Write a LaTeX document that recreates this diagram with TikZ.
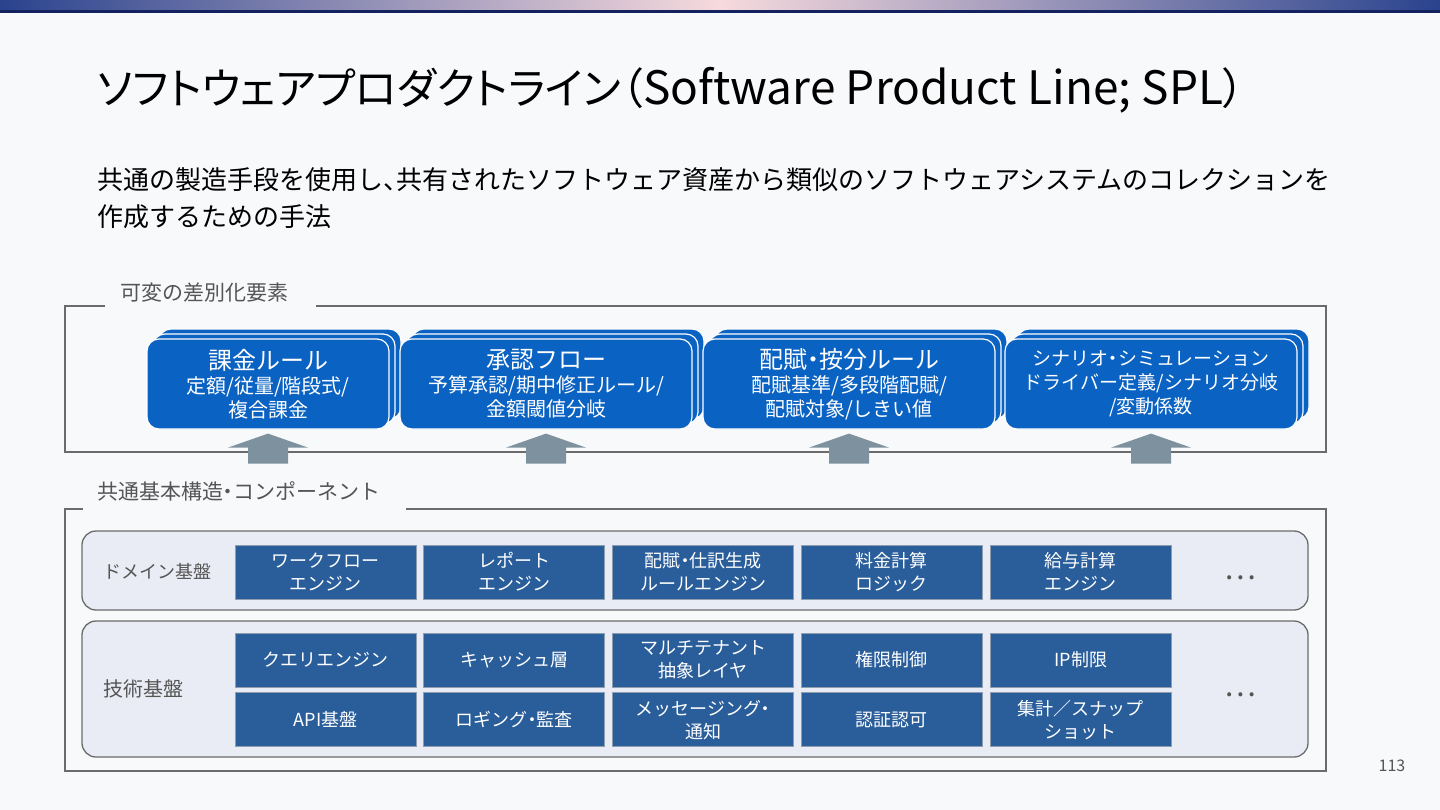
\documentclass[tikz,border=0pt]{standalone}
\usepackage{fontspec}
\setmainfont{Noto Sans CJK JP}[RawFeature=+halt]
\newfontfamily\propfont{Noto Sans CJK JP}[RawFeature=+palt]
\usetikzlibrary{
  positioning,
  shadows,
  calc,
}
\definecolor{pageBg}{HTML}{F8F9FB}
\definecolor{barBlue}{HTML}{2A438E}
\definecolor{barPink}{HTML}{F7DADD}
\definecolor{barNavy}{HTML}{14235F}
\definecolor{cardBlue}{HTML}{0A62C2}
\definecolor{compBlue}{HTML}{2A5E9B}
\definecolor{compLine}{HTML}{8E9DB0}
\definecolor{rowFill}{HTML}{E9ECF4}
\definecolor{frameGray}{HTML}{6B6B6B}
\definecolor{labelGray}{HTML}{555555}
\definecolor{arrowGray}{HTML}{7D929E}
\tikzset{
  cardbox/.style={
    rectangle, rounded corners=12pt, fill=cardBlue, draw=white,
    line width=1.2pt, minimum height=90pt, text=white, align=center,
    font=\fontsize{20}{24}\selectfont, inner sep=2pt,
    double copy shadow={shadow xshift=6pt, shadow yshift=5pt,
      fill=cardBlue, draw=white, line width=1.2pt},
  },
  compbox/.style={
    rectangle, fill=compBlue, draw=compLine, line width=0.8pt,
    minimum width=181pt, minimum height=54pt, text=white, align=center,
    font=\fontsize{18}{23}\selectfont, inner sep=1pt,
  },
  rowbox/.style={
    rectangle, rounded corners=14pt, fill=rowFill, draw=frameGray,
    line width=1.3pt, minimum width=1226pt,
  },
  frameline/.style={draw=frameGray, line width=1.3pt},
  grouplabel/.style={font=\fontsize{21}{24}\selectfont, text=labelGray, anchor=west, inner sep=0pt},
  rowlabel/.style={font=\fontsize{18}{22}\selectfont, text=labelGray, anchor=west, inner sep=0pt},
  moredots/.style={font=\fontsize{30}{32}\selectfont, text=labelGray},
  blockarrow/.style={fill=arrowGray},
}
\newcommand{\cardhead}[1]{{\fontsize{24}{28}\selectfont #1}}

\begin{document}
\begin{tikzpicture}[x=1pt, y=-1pt]

  % page
  \fill[pageBg] (0,0) rectangle (1440,810);
  \useasboundingbox (0,0) rectangle (1440,810);
  \shade[left color=barBlue, right color=barBlue, middle color=barPink] (0,0) rectangle (1440,10);
  \fill[barNavy] (0,10) rectangle (1440,13);

  \node[anchor=west, font=\propfont\fontsize{43}{50}\selectfont, inner sep=0pt] (title) at (97,90)
    {ソフトウェアプロダクトライン（{\fontsize{46}{50}\selectfont Software Product Line; SPL}）};
  \node[anchor=north west, align=left, font=\fontsize{26}{37}\selectfont, inner sep=0pt] (lead) at (97,167)
    {共通の製造手段を使用し、共有されたソフトウェア資産から類似のソフトウェアシステムのコレクションを\\作成するための手法};

  % Variable elements
  \node[grouplabel] (varLabel) at (120,293) {可変の差別化要素};
  \coordinate (varNW) at (65,306);
  \draw[frameline] ([xshift=-15pt]varLabel.west |- varNW) -- (varNW) -- (65,452)
    -- (1326,452) -- (1326,306) -- ([xshift=28pt]varLabel.east |- varNW);

  \node[cardbox, minimum width=242pt] (cardBill) at (268,384)
    {\cardhead{課金ルール}\\定額/従量/階段式/\\複合課金};
  \node[cardbox, minimum width=292pt] (cardAppr) at (546,384)
    {\cardhead{承認フロー}\\予算承認/期中修正ルール/\\金額閾値分岐};
  \node[cardbox, minimum width=292pt] (cardAlloc) at (849,384)
    {\cardhead{配賦・按分ルール}\\配賦基準/多段階配賦/\\配賦対象/しきい値};
  \node[cardbox, minimum width=292pt, font=\fontsize{19}{24}\selectfont] (cardScen) at (1151,384)
    {{\fontsize{19}{26}\selectfont シナリオ・シミュレーション}\\ドライバー定義/シナリオ分岐\\/変動係数};

  \foreach \c in {cardBill, cardAppr, cardAlloc, cardScen}
    \fill[blockarrow] ([yshift=-4pt]\c.south) -- ++(40,14) -- ++(-20,0) -- ++(0,16)
      -- ++(-40,0) -- ++(0,-16) -- ++(-20,0) -- cycle;

  % Common base
  \node[grouplabel] (baseLabel) at (97,491) {共通基本構造・コンポーネント};
  \coordinate (baseNW) at (65,509);
  \draw[frameline] ([xshift=-14pt]baseLabel.west |- baseNW) -- (baseNW) -- (65,771)
    -- (1326,771) -- (1326,509) -- ([xshift=25pt]baseLabel.east |- baseNW);

  \node[rowbox, minimum height=79pt] (domRow) at (695,570.5) {};
  \node[rowbox, minimum height=136pt] (techRow) at (695,689) {};
  \node[rowlabel] (domLabel) at (103,571) {ドメイン基盤};
  \node[rowlabel, font=\fontsize{20}{22}\selectfont] (techLabel) at (103,689) {技術基盤};

  \node[compbox] (dWork) at (325.5,572) {ワークフロー\\エンジン};
  \node[compbox, right=7pt of dWork] (dReport) {レポート\\エンジン};
  \node[compbox, right=7pt of dReport] (dJournal) {配賦・仕訳生成\\ルールエンジン};
  \node[compbox, right=7pt of dJournal] (dFee) {料金計算\\ロジック};
  \node[compbox, right=7pt of dFee] (dPay) {給与計算\\エンジン};
  \node[moredots] (domMore) at (1240,578) {…};

  \node[compbox] (tQuery) at (325.5,660) {クエリエンジン};
  \node[compbox, right=7pt of tQuery] (tCache) {キャッシュ層};
  \node[compbox, right=7pt of tCache] (tTenant) {マルチテナント\\抽象レイヤ};
  \node[compbox, right=7pt of tTenant] (tPerm) {権限制御};
  \node[compbox, right=7pt of tPerm] (tIp) {IP制限};
  \node[compbox, below=5pt of tQuery] (tApi) {API基盤};
  \node[compbox, right=7pt of tApi] (tLog) {ロギング・監査};
  \node[compbox, right=7pt of tLog] (tMsg) {メッセージング・\\通知};
  \node[compbox, right=7pt of tMsg] (tAuth) {認証認可};
  \node[compbox, right=7pt of tAuth] (tSnap) {集計／スナップ\\ショット};
  \node[moredots] (techMore) at (1240,695) {…};

  \node[font=\fontsize{16}{18}\selectfont, text=labelGray] (pageNo) at (1392,766) {113};

\end{tikzpicture}
\end{document}
